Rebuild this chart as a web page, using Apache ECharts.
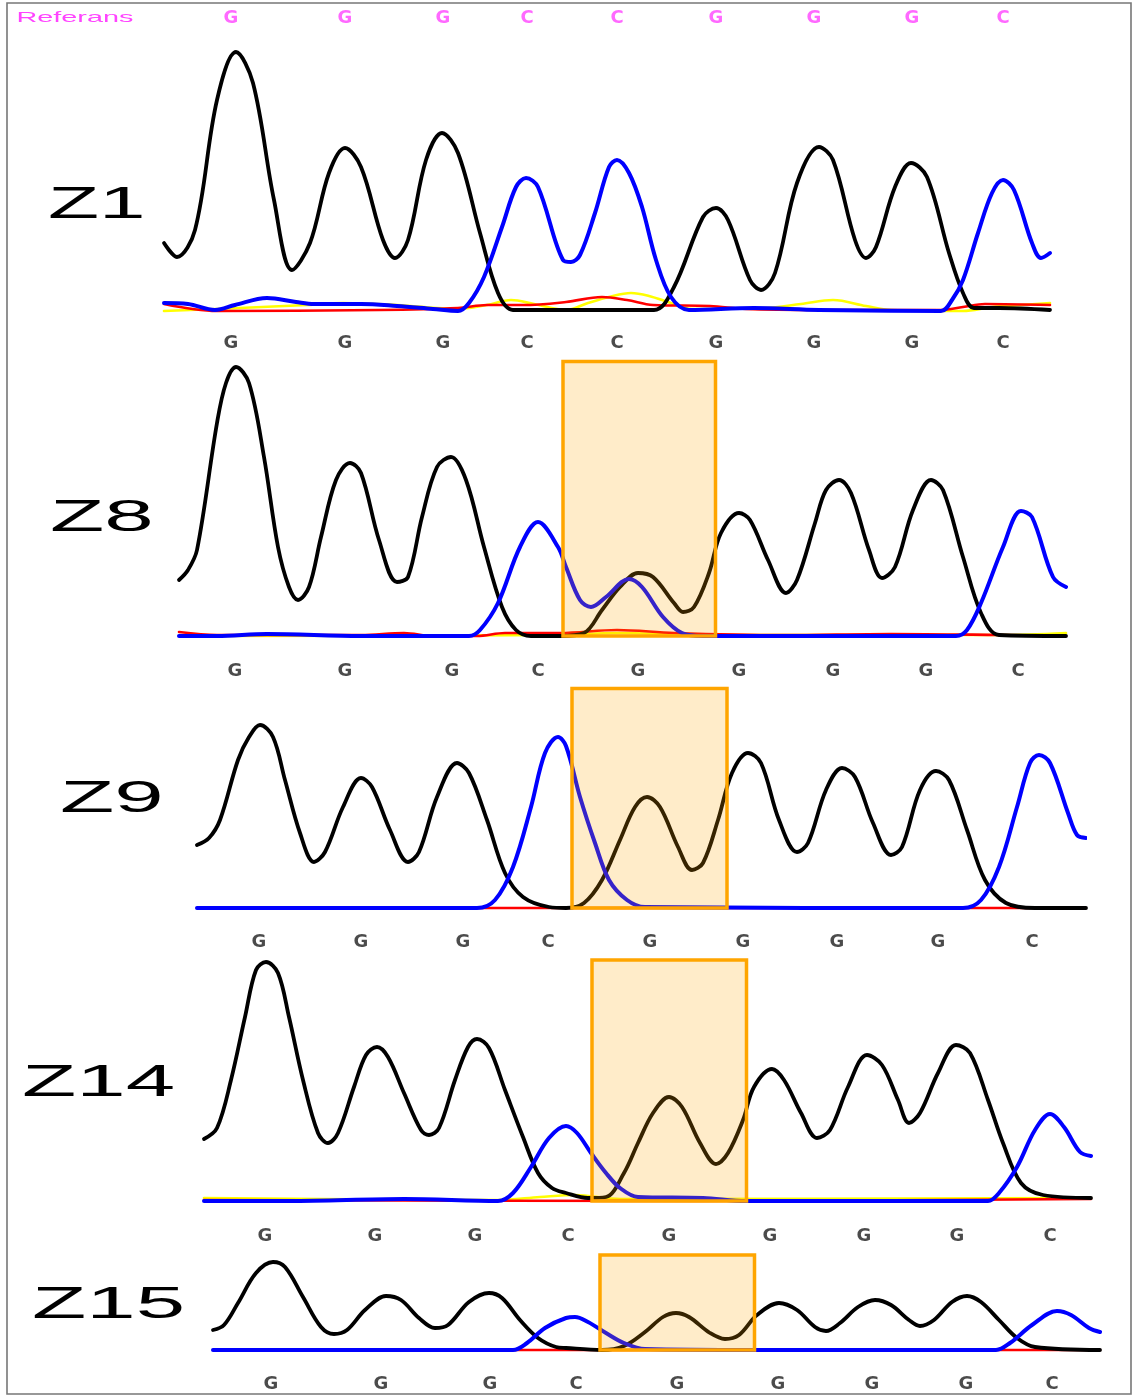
<!DOCTYPE html>
<html><head><meta charset="utf-8">
<script src="https://cdn.jsdelivr.net/npm/echarts@6/dist/echarts.min.js"></script>
<style>html,body{margin:0;padding:0;background:#fff}#c{width:1133px;height:1396px}</style>
</head><body><div id="c"></div>
<script>
// ---- base calls ----
const refCalls = ['G','G','G','C','C','G','G','G','C'];
const z1Calls  = ['G','G','G','C','C','G','G','G','C'];
const z8Calls  = ['G','G','G','C','G','G','G','G','C'];
const z9Calls  = ['G','G','G','C','G','G','G','G','C'];
const z14Calls = ['G','G','G','C','G','G','G','G','C'];
const z15Calls = ['G','G','G','C','G','G','G','G','C'];
// base-call positions (scan units)
const z1CallX  = [68,182,280,364,454,553,651,749,840];
const z8CallX  = [57,167,274,360,460,561,655,748,840];
const z9CallX  = [62,164,266,351,453,546,640,741,835];
const z14CallX = [62,172,272,365,466,567,661,754,847];
const z15CallX = [59,169,278,364,465,566,660,754,840];
// highlighted region [start, end, top]
const z8Box  = [385, 537.5, 274.5];
const z9Box  = [375, 530, 219.5];
const z14Box = [389, 543.5, 241];
const z15Box = [388, 542.5, 95];

// ---- traces [scan, intensity] ----
const z1Black = [[1,68],[14,54],[32,81],[54,211],[73,259],[90,228],[111,111],[129,41],[147,68],[166,138],[182,163],[198,144],[220,71],[232,53],[245,71],[263,151],[279,178],[295,158],[317,78],[335,18],[350,1],[400,1],[491,1],[511,24],[540,94],[553,103],[565,91],[587,31],[598,21],[612,38],[634,128],[656,164],[670,151],[692,71],[703,53],[713,64],[732,124],[748,148],[764,134],[786,58],[800,18],[811,3],[836,3],[887,1]];
const z1Blue = [[1,8],[25,7],[52,1],[72,6],[104,13],[133,9],[151,7],[198,7],[234,5],[270,2],[295,0],[306,8],[321,34],[339,84],[353,124],[363,133],[375,124],[400,51],[408,49],[417,56],[432,98],[446,144],[454,151],[466,138],[479,104],[493,51],[508,14],[526,1],[591,3],[656,1],[778,0],[789,11],[800,31],[815,78],[829,118],[840,131],[851,121],[869,68],[878,53],[887,58]];
const z1Red = [[1,7],[54,0],[216,1],[295,3],[324,6],[360,6],[403,9],[439,14],[464,11],[490,6],[547,5],[583,2],[656,1],[778,1],[800,4],[822,7],[887,6]];
const z1Yellow = [[1,0],[54,2],[144,6],[180,8],[234,6],[295,2],[324,6],[348,11],[371,7],[403,1],[425,8],[446,14],[468,18],[486,15],[508,8],[529,2],[602,3],[638,7],[670,11],[703,5],[728,1],[800,0],[829,4],[858,6],[887,8]];

const z8Black = [[1,56],[10,66],[19,86],[39,213],[48,253],[58,269],[71,253],[86,179],[100,89],[111,49],[120,36],[131,49],[143,99],[158,156],[172,173],[183,163],[201,96],[219,54],[230,59],[244,119],[259,169],[273,179],[288,156],[306,89],[324,29],[338,6],[353,0],[382,0],[406,3],[424,26],[442,49],[460,63],[475,59],[496,33],[505,24],[516,29],[531,63],[543,103],[561,123],[572,116],[590,76],[608,43],[619,56],[637,113],[648,146],[661,156],[673,143],[691,86],[704,58],[717,69],[735,126],[753,156],[765,146],[785,79],[803,23],[821,1],[888,0]];
const z8Blue = [[1,0],[39,0],[89,2],[183,0],[291,0],[302,6],[320,33],[342,89],[360,114],[380,89],[388,69],[402,36],[413,29],[428,39],[451,57],[464,49],[485,19],[504,3],[525,0],[778,0],[789,6],[803,33],[825,89],[843,125],[854,119],[875,59],[888,49]];
const z8Red = [[1,4],[39,1],[183,1],[226,3],[255,0],[299,0],[327,3],[382,3],[439,6],[496,3],[605,1],[713,2],[821,1],[888,0]];
const z8Yellow = [[1,0],[382,1],[439,3],[520,1],[822,1],[888,3]];

const z9Black = [[0,63],[12,70],[23,88],[41,148],[52,171],[63,183],[76,171],[88,128],[103,75],[117,46],[128,56],[146,101],[164,130],[175,121],[193,78],[211,46],[222,56],[240,111],[260,145],[272,135],[290,88],[308,35],[326,11],[352,1],[369,0],[387,5],[405,28],[423,68],[438,101],[450,111],[463,101],[481,61],[495,38],[506,45],[521,88],[535,135],[551,155],[564,145],[582,88],[600,56],[611,65],[629,118],[645,140],[658,131],[676,85],[694,53],[705,61],[723,118],[739,137],[752,128],[770,78],[788,28],[809,5],[838,0],[889,0]];
const z9Blue = [[0,0],[280,0],[298,8],[316,41],[334,101],[348,155],[361,171],[369,162],[383,111],[398,65],[412,28],[430,8],[448,1],[766,0],[784,8],[802,41],[820,101],[833,145],[842,153],[853,145],[871,95],[880,73],[889,70]];
const z9Red = [[0,0],[889,0]];

const z14Black = [[1,62],[14,73],[28,121],[42,184],[53,231],[63,239],[75,228],[86,184],[100,121],[115,68],[125,58],[135,68],[151,114],[163,146],[174,154],[185,144],[201,108],[218,71],[226,66],[236,73],[252,121],[265,154],[274,162],[286,153],[302,111],[320,64],[335,28],[349,13],[363,8],[385,3],[403,4],[421,28],[435,58],[450,88],[466,104],[479,94],[497,58],[513,37],[525,48],[540,81],[551,114],[569,132],[581,121],[598,88],[614,63],[627,71],[645,114],[664,146],[679,136],[695,101],[706,78],[717,88],[735,128],[753,156],[767,148],[785,101],[800,58],[818,18],[840,6],[888,3]];
const z14Blue = [[1,0],[86,0],[201,2],[295,0],[310,8],[328,34],[346,63],[363,75],[374,68],[388,48],[403,28],[417,13],[435,4],[500,3],[543,0],[785,0],[796,8],[814,34],[832,71],[847,87],[861,74],[877,49],[888,45]];
const z14Red = [[1,1],[500,0],[888,2]];
const z14Yellow = [[1,3],[295,1],[337,4],[372,6],[417,2],[888,3]];

const z15Black = [[1,20],[12,25],[26,47],[44,77],[61,88],[73,83],[91,53],[109,23],[122,16],[135,20],[153,40],[174,54],[189,50],[207,32],[223,22],[236,25],[257,48],[277,57],[290,52],[308,30],[326,12],[344,3],[354,2],[390,0],[412,4],[433,18],[451,33],[464,37],[477,33],[498,17],[513,11],[527,15],[545,35],[567,47],[585,40],[603,23],[614,19],[628,27],[646,43],[663,50],[679,45],[697,30],[708,24],[722,30],[740,48],[755,54],[769,48],[787,30],[805,12],[823,3],[888,0]];
const z15Blue = [[1,0],[301,0],[315,7],[333,22],[354,32],[363,33],[376,28],[394,17],[412,7],[433,1],[542,0],[784,0],[798,7],[820,25],[845,39],[859,35],[877,22],[888,18]];
const z15Red = [[1,0],[888,0]];

// ---- layout ----
const panels = [
  {label:'Z1',  lx:48, ly:206,  sx:1.9,  left:163, top:11,   height:345, yMax:300, calls:z1Calls,  callX:z1CallX,  callY:-32.5, A:z1Yellow, T:z1Red,  G:z1Black,  C:z1Blue,  box:null},
  {label:'Z8',  lx:50, ly:519,  sx:2.02, left:178, top:356,  height:325, yMax:280, calls:z8Calls,  callX:z8CallX,  callY:-35.5, A:z8Yellow, T:z8Red,  G:z8Black,  C:z8Blue,  box:z8Box},
  {label:'Z9',  lx:60, ly:800,  sx:2.02, left:197, top:683,  height:270, yMax:225, calls:z9Calls,  callX:z9CallX,  callY:-34,   A:null,     T:z9Red,  G:z9Black,  C:z9Blue,  box:z9Box},
  {label:'Z14', lx:22, ly:1084, sx:2.02, left:203, top:955,  height:291, yMax:246, calls:z14Calls, callX:z14CallX, callY:-35.5, A:z14Yellow,T:z14Red, G:z14Black, C:z14Blue, box:z14Box},
  {label:'Z15', lx:32, ly:1306, sx:2.02, left:212, top:1250, height:145, yMax:100, calls:z15Calls, callX:z15CallX, callY:-34.5, A:null,     T:z15Red, G:z15Black, C:z15Blue, box:z15Box}
];

const colors = {A:'#FFFF00', T:'#FF0000', G:'#000000', C:'#0000FF'};
const widths = {A:2.6, T:2.6, G:3.8, C:4};

const grid = [], xAxis = [], yAxis = [], series = [];
const graphicEls = [
  {type:'rect', shape:{x:7, y:3, width:1124, height:1391}, style:{fill:'none', stroke:'#777', lineWidth:1.6}, silent:true},
  {type:'text', x:16.5, y:17.5, scaleX:1.92, style:{text:'Referans', fill:'#FF44FF', font:'15px "Liberation Sans", Arial, sans-serif', textAlign:'left', textVerticalAlign:'middle', verticalAlign:'middle'}, silent:true}
];

function callSeries(i, calls, xs, y, color) {
  return {
    type:'scatter', xAxisIndex:i, yAxisIndex:i, symbolSize:1, silent:true, animation:false,
    itemStyle:{color:'rgba(0,0,0,0)'}, z:6,
    label:{show:true, position:'inside', formatter:'{t|{b}}',
      rich:{t:{color:color, fontFamily:'DejaVu Sans', fontWeight:'bold', fontSize:18, lineHeight:20}}},
    data:calls.map((c, j) => ({name:c, value:[xs[j], y]}))
  };
}

panels.forEach((p, i) => {
  grid.push({left:p.left, top:p.top, width:888, height:p.height, containLabel:false});
  xAxis.push({type:'value', gridIndex:i, min:0, max:888, show:false});
  yAxis.push({type:'value', gridIndex:i, min:-45, max:p.yMax, show:false});
  ['A','T','G','C'].forEach(k => {
    if (!p[k]) return;
    const s = {
      type:'line', xAxisIndex:i, yAxisIndex:i, data:p[k], showSymbol:false, symbol:'none',
      smooth:0.35, silent:true, animation:false,
      lineStyle:{color:colors[k], width:widths[k], join:'round', cap:'round'}
    };
    if (k === 'C' && p.box) {
      s.markArea = {
        silent:true, z:10, animation:false,
        itemStyle:{color:'rgba(255,165,0,0.21)', borderColor:'#FFA500', borderWidth:3.5},
        data:[[{xAxis:p.box[0], yAxis:0}, {xAxis:p.box[1], yAxis:p.box[2]}]]
      };
    }
    series.push(s);
  });
  series.push(callSeries(i, p.calls, p.callX, p.callY, '#1e1e1e'));
  if (i === 0) series.push(callSeries(0, refCalls, z1CallX, 292.5, '#FF44FF'));
  graphicEls.push({type:'text', x:p.lx, y:p.ly, scaleX:p.sx, silent:true,
    style:{text:p.label, fill:'#000', font:'44px "Liberation Sans", Arial, sans-serif', textAlign:'left', textVerticalAlign:'middle', verticalAlign:'middle'}});
});

const chart = echarts.init(document.getElementById('c'), null, {renderer:'canvas'});
chart.setOption({
  animation:false,
  backgroundColor:'#ffffff',
  grid, xAxis, yAxis, series,
  graphic:{elements:graphicEls}
});
</script></body></html>
